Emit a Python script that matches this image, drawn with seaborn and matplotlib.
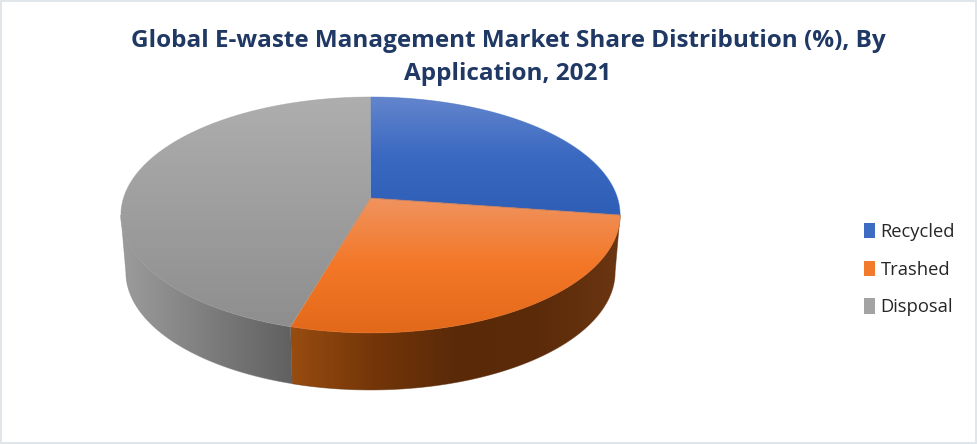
import numpy as np
import seaborn as sns
import matplotlib.pyplot as plt
from matplotlib.patches import Patch, Polygon, Rectangle

sns.set_theme(style="white")
plt.rcParams["font.family"] = ["Open Sans", "DejaVu Sans"]

labels = ["Recycled", "Trashed", "Disposal"]
shares = [27.3, 27.2, 45.5]

top_shades = [["#6385CD", "#3A69C1", "#2E5EB6"],
              ["#F0935F", "#F37726", "#E3691A"],
              ["#AEAEAE", "#9E9E9E", "#8E8E8E"]]
wall_shades = [["#2E5EB6", "#2E5EB6"],
               ["#984C10", "#743609", "#5A2A08", "#5C2B09", "#6B3612"],
               ["#9C9C9C", "#7E7E7E", "#606060"]]
legend_colors = ["#3F6CC3", "#F27A2C", "#A3A3A3"]
title = "Global E-waste Management Market Share Distribution (%), By\nApplication, 2021"

fig = plt.figure(figsize=(9.77, 4.44), dpi=100, facecolor="#E1E6EA")
ax = fig.add_axes([0, 0, 1, 1])
ax.set_xlim(0, 977)
ax.set_ylim(444, 0)
ax.axis("off")
ax.add_patch(Rectangle((2, 2), 973, 440, fc="white", ec="none", zorder=0))

# tilted disc: a circle seen in perspective, apex sits above the ellipse centre
CX, APEX_Y, RADIUS, TILT, SPREAD, DEPTH = 370.5, 198, 247, 0.144, 87, 57


def rim(theta, bottom=False):
    u, v = np.sin(theta), np.cos(theta)
    w = 1 + TILT * v
    x = RADIUS * u / w
    y = (APEX_Y - SPREAD * v) / w
    if bottom:
        return CX + x * 0.98, y + DEPTH
    return CX + x, y


def gradient(poly_xy, shades, horizontal=False, zorder=2):
    x0, x1 = poly_xy[:, 0].min(), poly_xy[:, 0].max()
    y0, y1 = poly_xy[:, 1].min(), poly_xy[:, 1].max()
    cmap = sns.blend_palette(shades, n_colors=256, as_cmap=True)
    ramp = np.linspace(0, 1, 256)
    ramp = ramp[None, :] if horizontal else ramp[:, None]
    im = ax.imshow(ramp, cmap=cmap, extent=[x0, x1, y1, y0], origin="upper",
                   aspect="auto", zorder=zorder, interpolation="bilinear")
    patch = Polygon(poly_xy, closed=True, fc="none", ec="none", transform=ax.transData)
    ax.add_patch(patch)
    im.set_clip_path(patch)
    # soft edge
    ax.add_patch(Polygon(poly_xy, closed=True, fc="none", lw=0.6, zorder=zorder + 0.1,
                         ec=shades[len(shades) // 2], alpha=0.5))


edges = np.radians(np.concatenate([[0], np.cumsum(shares)]) * 3.6)
front_from = np.radians(98.3)
front_to = np.radians(261.7)

# side walls first
for i in range(len(shares)):
    a, b = max(edges[i], front_from), min(edges[i + 1], front_to)
    if b <= a:
        continue
    t = np.linspace(a, b, 200)
    tx, ty = rim(t)
    bx, by = rim(t[::-1], bottom=True)
    gradient(np.column_stack([np.r_[tx, bx], np.r_[ty, by]]), wall_shades[i], horizontal=True)

# top faces
for i in range(len(shares)):
    t = np.linspace(edges[i], edges[i + 1], 200)
    tx, ty = rim(t)
    poly = np.column_stack([np.r_[CX, tx], np.r_[APEX_Y, ty]])
    gradient(poly, top_shades[i], zorder=3)

ax.set_xlim(0, 977)
ax.set_ylim(444, 0)

ax.text(508, 57.5, title, ha="center", va="center", fontsize=17.5, fontweight="bold",
        color="#1F3864", linespacing=1.53)

handles = [Patch(fc=c, ec="none") for c in legend_colors]
ax.legend(handles, labels, loc="upper left", bbox_to_anchor=(864 / 977, 1 - 223 / 444),
          bbox_transform=ax.transAxes, frameon=False, fontsize=13.2, labelcolor="#262626",
          handlelength=0.62, handleheight=0.9, handletextpad=0.28, labelspacing=1.07,
          borderpad=0, borderaxespad=0)

fig.savefig("out.png", dpi=100, facecolor=fig.get_facecolor())
